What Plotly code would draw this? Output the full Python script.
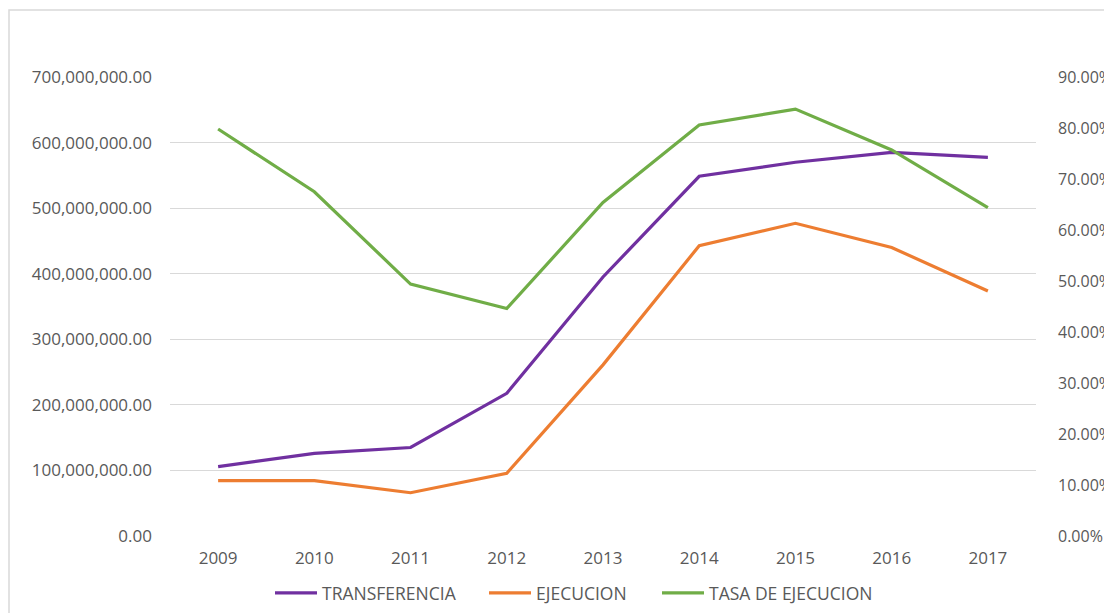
import plotly.graph_objects as go

years = ["2009", "2010", "2011", "2012", "2013", "2014", "2015", "2016", "2017"]
transferencia = [105.7e6, 126e6, 135e6, 217.6e6, 395e6, 548.6e6, 570e6, 585e6, 577.5e6]
ejecucion = [84.4e6, 84.4e6, 66e6, 95.6e6, 261e6, 442.7e6, 476.9e6, 440e6, 373.6e6]
tasa = [0.798, 0.675, 0.494, 0.446, 0.654, 0.806, 0.837, 0.757, 0.644]

# page body has an 8px default margin; work in screen coords and shift
OFF = 8
W, H = 1112 - OFF, 613 - OFF
L, R, T, B = 170 - OFF, 1036 - OFF, 77 - OFF, 536 - OFF

pw, ph = R - L, B - T
def px(x):
    return (x - OFF - L) / pw
def py(y):
    return (B - (y - OFF)) / ph

fig = go.Figure()
fig.add_trace(go.Scatter(x=years, y=transferencia, name="TRANSFERENCIA", mode="lines",
                         line=dict(color="#7030A0", width=3.2), legend="legend"))
fig.add_trace(go.Scatter(x=years, y=ejecucion, name="EJECUCION", mode="lines",
                         line=dict(color="#ED7D31", width=3.2), legend="legend2"))
fig.add_trace(go.Scatter(x=years, y=tasa, name="TASA DE EJECUCION", mode="lines",
                         line=dict(color="#70AD47", width=3.2), yaxis="y2", legend="legend3"))

fig.add_shape(type="rect", xref="paper", yref="paper",
              x0=px(9), x1=px(1130), y0=py(10), y1=py(630),
              line=dict(color="#d9d9d9", width=1.5), fillcolor="rgba(0,0,0,0)", layer="below")

font = dict(family="Open Sans, Liberation Sans, sans-serif", size=17, color="#595959")
rfont = dict(family="Open Sans, Liberation Sans, sans-serif", size=16, color="#595959")
lfont = dict(family="Open Sans, Liberation Sans, sans-serif", size=17.5, color="#595959")

def leg(xs):
    return dict(orientation="h", x=px(xs), xanchor="left", y=py(593), yanchor="middle",
                font=lfont, itemwidth=42, bgcolor="rgba(0,0,0,0)", borderwidth=0)

fig.update_layout(
    width=W, height=H,
    margin=dict(l=L, r=W - R, t=T, b=H - B, pad=0, autoexpand=False),
    plot_bgcolor="white", paper_bgcolor="white",
    font=font,
    xaxis=dict(type="category", range=[-0.5, 8.5], showgrid=False, showline=False, ticks="",
               tickfont=font, ticklabelstandoff=10, automargin=False),
    yaxis=dict(range=[0, 700e6], dtick=100e6, tickformat=",.2f", showgrid=True,
               gridcolor="#d9d9d9", gridwidth=1, zeroline=False, showline=False,
               tickfont=font, ticklabelstandoff=17, automargin=False),
    yaxis2=dict(range=[0, 0.9], dtick=0.1, tickformat=".2%", overlaying="y", side="right",
                showgrid=False, zeroline=False, showline=False, tickfont=rfont,
                ticklabelstandoff=21, automargin=False),
    legend=leg(270),
    legend2=leg(484),
    legend3=leg(657),
    showlegend=True,
)

fig.write_html("out.html")
